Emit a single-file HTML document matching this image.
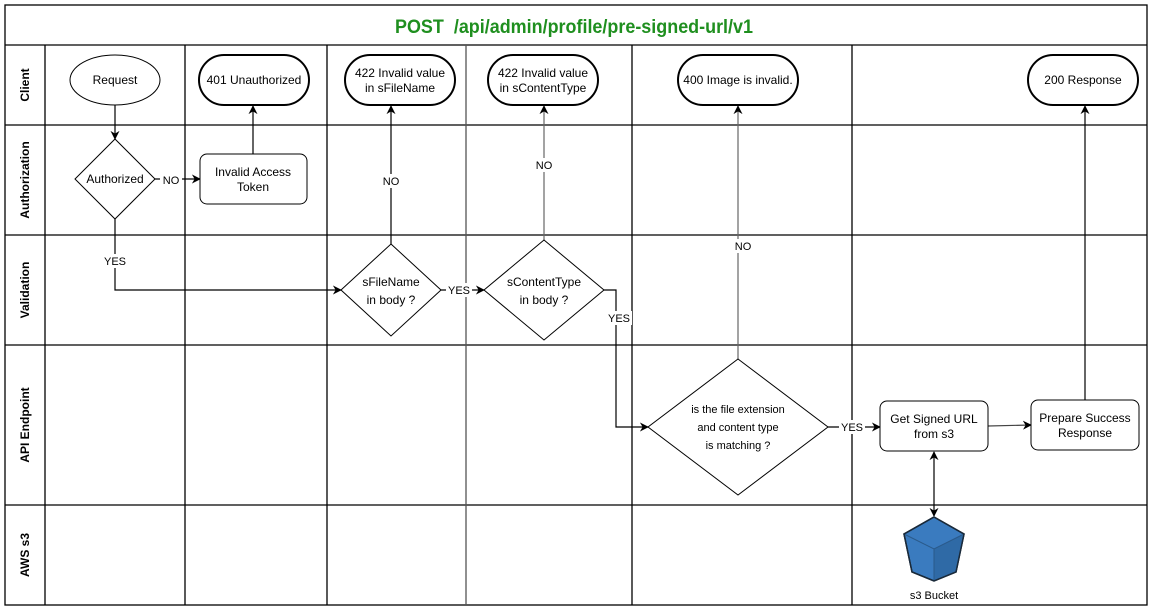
<!DOCTYPE html>
<html><head><meta charset="utf-8"><style>
html,body{margin:0;padding:0;background:#fff;}
svg{display:block;font-family:"Liberation Sans",Arial,sans-serif;}
</style></head><body>
<svg width="1154" height="613" viewBox="0 0 1154 613" xmlns="http://www.w3.org/2000/svg">
<defs>
<marker id="a" viewBox="0 0 10 10" refX="9" refY="5" markerWidth="9" markerHeight="9" orient="auto-start-reverse" markerUnits="userSpaceOnUse">
<path d="M0,0 L10,5 L0,10 L3,5 Z" fill="#000"/></marker>
</defs>
<rect x="0" y="0" width="1154" height="613" fill="#fff"/>
<!-- grid -->
<g stroke="#000" stroke-width="1.3" fill="none">
<rect x="5" y="5" width="1142" height="600"/>
<line x1="5" y1="45" x2="1147" y2="45"/>
<line x1="5" y1="125" x2="1147" y2="125"/>
<line x1="5" y1="235" x2="1147" y2="235"/>
<line x1="5" y1="345" x2="1147" y2="345"/>
<line x1="5" y1="505" x2="1147" y2="505"/>
<line x1="45" y1="45" x2="45" y2="605"/>
<line x1="185" y1="45" x2="185" y2="605"/>
<line x1="327" y1="45" x2="327" y2="605"/>
<line x1="466" y1="45" x2="466" y2="605" stroke="#555"/>
<line x1="632" y1="45" x2="632" y2="605"/>
<line x1="852" y1="45" x2="852" y2="605"/>
</g>
<text x="574" y="33" text-anchor="middle" font-size="19" font-weight="bold" fill="#1f8f1f" textLength="358" lengthAdjust="spacingAndGlyphs" xml:space="preserve">POST  /api/admin/profile/pre-signed-url/v1</text>
<!-- lane labels -->
<g font-size="12" font-weight="bold" text-anchor="middle">
<text transform="translate(29,85) rotate(-90)">Client</text>
<text transform="translate(29,180) rotate(-90)">Authorization</text>
<text transform="translate(29,290) rotate(-90)">Validation</text>
<text transform="translate(29,425) rotate(-90)">API Endpoint</text>
<text transform="translate(29,555) rotate(-90)">AWS s3</text>
</g>
<!-- connectors -->
<g stroke="#000" stroke-width="1.2" fill="none">
<line x1="115" y1="105" x2="115" y2="139" marker-end="url(#a)"/>
<line x1="155" y1="179" x2="200" y2="179" marker-end="url(#a)"/>
<line x1="253" y1="154" x2="253" y2="106" marker-end="url(#a)"/>
<polyline points="115,219 115,290 341,290" marker-end="url(#a)"/>
<line x1="391" y1="244" x2="391" y2="106" marker-end="url(#a)"/>
<line x1="441" y1="290" x2="484" y2="290" marker-end="url(#a)"/>
<line x1="544" y1="240" x2="544" y2="106" stroke="#666" marker-end="url(#a)"/>
<polyline points="604,290 616,290 616,427 648,427" marker-end="url(#a)"/>
<line x1="738" y1="359" x2="738" y2="106" stroke="#666" marker-end="url(#a)"/>
<line x1="828" y1="427" x2="880" y2="427" marker-end="url(#a)"/>
<line x1="988" y1="426" x2="1031" y2="425" stroke="#444" marker-end="url(#a)"/>
<line x1="1085" y1="400" x2="1085" y2="106" marker-end="url(#a)"/>
<line x1="934" y1="452" x2="934" y2="516" marker-start="url(#a)" marker-end="url(#a)"/>
</g>
<!-- edge labels -->
<g font-size="11" text-anchor="middle">
<rect x="160" y="172" width="22" height="14" fill="#fff"/><text x="171" y="184">NO</text>
<rect x="102" y="254" width="26" height="14" fill="#fff"/><text x="115" y="265">YES</text>
<rect x="380" y="174" width="22" height="14" fill="#fff"/><text x="391" y="185">NO</text>
<rect x="446" y="283" width="26" height="14" fill="#fff"/><text x="459" y="294">YES</text>
<rect x="533" y="158" width="22" height="14" fill="#fff"/><text x="544" y="169">NO</text>
<rect x="606" y="311" width="26" height="14" fill="#fff"/><text x="619" y="322">YES</text>
<rect x="727" y="239" width="24" height="14" fill="#fff"/><text x="743" y="250">NO</text>
<rect x="839" y="420" width="26" height="14" fill="#fff"/><text x="852" y="431">YES</text>
</g>
<!-- nodes -->
<g font-size="12" text-anchor="middle" fill="#000">
<ellipse cx="115" cy="80" rx="45" ry="25" fill="#fff" stroke="#000" stroke-width="1"/>
<text x="115" y="84">Request</text>
<rect x="199" y="55" width="110" height="50" rx="25" fill="#fff" stroke="#000" stroke-width="2"/>
<text x="254" y="84">401 Unauthorized</text>
<rect x="345" y="55" width="110" height="50" rx="25" fill="#fff" stroke="#000" stroke-width="2"/>
<text x="400" y="77">422 Invalid value</text><text x="400" y="92">in sFileName</text>
<rect x="488" y="55" width="110" height="50" rx="25" fill="#fff" stroke="#000" stroke-width="2"/>
<text x="543" y="77">422 Invalid value</text><text x="543" y="92">in sContentType</text>
<rect x="678" y="55" width="120" height="50" rx="25" fill="#fff" stroke="#000" stroke-width="2"/>
<text x="738" y="84">400 Image is invalid.</text>
<rect x="1028" y="55" width="110" height="50" rx="25" fill="#fff" stroke="#000" stroke-width="2"/>
<text x="1083" y="84">200 Response</text>

<polygon points="115,139 155,179 115,219 75,179" fill="#fff" stroke="#000"/>
<text x="115" y="183">Authorized</text>
<rect x="200" y="154" width="107" height="50" rx="7" fill="#fff" stroke="#000"/>
<text x="253" y="176">Invalid Access</text><text x="253" y="191">Token</text>

<polygon points="391,244 441,290 391,336 341,290" fill="#fff" stroke="#000"/>
<text x="391" y="286">sFileName</text><text x="391" y="304">in body ?</text>
<polygon points="544,240 604,290 544,340 484,290" fill="#fff" stroke="#000"/>
<text x="544" y="286">sContentType</text><text x="544" y="304">in body ?</text>

<polygon points="738,359 828,427 738,495 648,427" fill="#fff" stroke="#000"/>
<text x="738" y="413" font-size="11">is the file extension</text>
<text x="738" y="431" font-size="11">and content type</text>
<text x="738" y="449" font-size="11">is matching ?</text>

<rect x="880" y="401" width="108" height="50" rx="7" fill="#fff" stroke="#000"/>
<text x="934" y="423">Get Signed URL</text><text x="934" y="438">from s3</text>
<rect x="1031" y="400" width="108" height="50" rx="7" fill="#fff" stroke="#000"/>
<text x="1085" y="422">Prepare Success</text><text x="1085" y="437">Response</text>

<!-- bucket -->
<polygon points="934,517 964,534 956,572 934,581 912,572 904,534" fill="#3a7bbf" stroke="#1a2a3a" stroke-width="1.5"/>
<polygon points="934,549 964,534 956,572 934,581" fill="#2f6aa6"/>
<polyline points="904,534 934,549 964,534" fill="none" stroke="#2a5a8a" stroke-width="1"/>
<line x1="934" y1="549" x2="934" y2="581" stroke="#2a5a8a" stroke-width="1"/>
<polygon points="934,517 964,534 956,572 934,581 912,572 904,534" fill="none" stroke="#1a2a3a" stroke-width="1.5"/>
<text x="934" y="599" font-size="11">s3 Bucket</text>
</g>
</svg>
</body></html>
